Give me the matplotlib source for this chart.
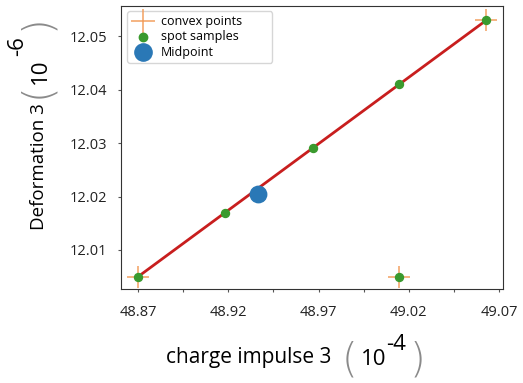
import matplotlib
matplotlib.use("Agg")
import matplotlib.pyplot as plt

plt.rcParams['font.family'] = ['Open Sans', 'DejaVu Sans']

# data
line_x = [48.870, 49.063]
line_y = [12.005, 12.053]
convex_x = [48.870, 49.063, 49.0145]
convex_y = [12.005, 12.053, 12.005]
spot_x = [48.870, 48.918, 48.967, 49.0145, 49.063, 49.0145]
spot_y = [12.005, 12.017, 12.029, 12.041, 12.053, 12.005]
mid_x = [48.9365]
mid_y = [12.0205]

xticks = [48.87, 48.895, 48.92, 48.945, 48.97, 48.995, 49.02, 49.045, 49.07]
xticklabels = ['48.87', '', '48.92', '', '48.97', '', '49.02', '', '49.07']
yticks = [12.01, 12.02, 12.03, 12.04, 12.05]
yticklabels = ['12.01', '12.02', '12.03', '12.04', '12.05']

W, H = 523, 383
fig = plt.figure(figsize=(W / 100, H / 100), dpi=100)
ax = fig.add_axes([120.7 / W, 1 - 289 / H, (502.7 - 120.7) / W, (289 - 5.7) / H])

ax.plot(line_x, line_y, color='#c81e1e', lw=2, zorder=2)
ax.scatter(convex_x, convex_y, marker='+', s=260, color='#f2a060', linewidths=1.1,
           label='convex points', zorder=3)
ax.scatter(spot_x, spot_y, s=33, color='#3a9a2e', label='spot samples', zorder=4)
ax.scatter(mid_x, mid_y, s=140, color='#2a78b6', label='Midpoint', zorder=5)

ax.set_xlim(48.8604, 49.072)
ax.set_ylim(12.0027, 12.0557)
ax.set_xticks(xticks)
ax.set_xticklabels(xticklabels)
ax.set_yticks(yticks)
ax.set_yticklabels(yticklabels)
ax.tick_params(labelsize=10.5, length=2.5, color='#555555', labelcolor='#222222')
ax.tick_params(axis='x', pad=9)
ax.tick_params(axis='y', pad=7)
for s in ax.spines.values():
    s.set_color('#333333')

ax0 = 120.7
ax_w = 502.7 - 120.7
ax_h = 289 - 5.7
lx0 = (127 - ax0) / ax_w
lx1 = (272 - ax0) / ax_w
ly1 = 1 - (11 - 5.7) / ax_h
leg = ax.legend(loc='upper left', bbox_to_anchor=(lx0, ly1 - 0.2, lx1 - lx0, 0.2),
                mode='expand', borderaxespad=0, fontsize=9, handletextpad=0.4,
                borderpad=0.3, labelspacing=0.2, markerscale=1.05)
leg.get_frame().set_edgecolor('#cccccc')

PAREN = dict(fontsize=29, family='DejaVu Sans', fontweight='light', color='#8a8a8a',
             ha='center', va='center')


def place(txt, x, y, rot=0, **kw):
    # x, y in pixels, y measured from top
    return fig.text(x / W, 1 - y / H, txt, rotation=rot, rotation_mode='anchor', **kw)


# x label: charge impulse 3 (10^-4)
place('charge impulse 3', 166, 363, fontsize=15, ha='left', va='baseline')
place('(', 350, 360, **PAREN)
place('10', 361, 365, fontsize=16, ha='left', va='baseline')
place('-4', 386, 350, fontsize=16, ha='left', va='baseline')
place(')', 417, 360, **PAREN)

# y label: Deformation 3 (10^-6), reading bottom to top
place('Deformation 3', 44, 230, rot=90, fontsize=13.5, ha='left', va='baseline')
place('(', 37, 90, rot=90, **PAREN)
place('10', 46, 84, rot=90, fontsize=16, ha='left', va='baseline')
place('-6', 23, 56, rot=90, fontsize=16, ha='left', va='baseline')
place(')', 37, 22, rot=90, **PAREN)

fig.savefig('out.png', dpi=100)
